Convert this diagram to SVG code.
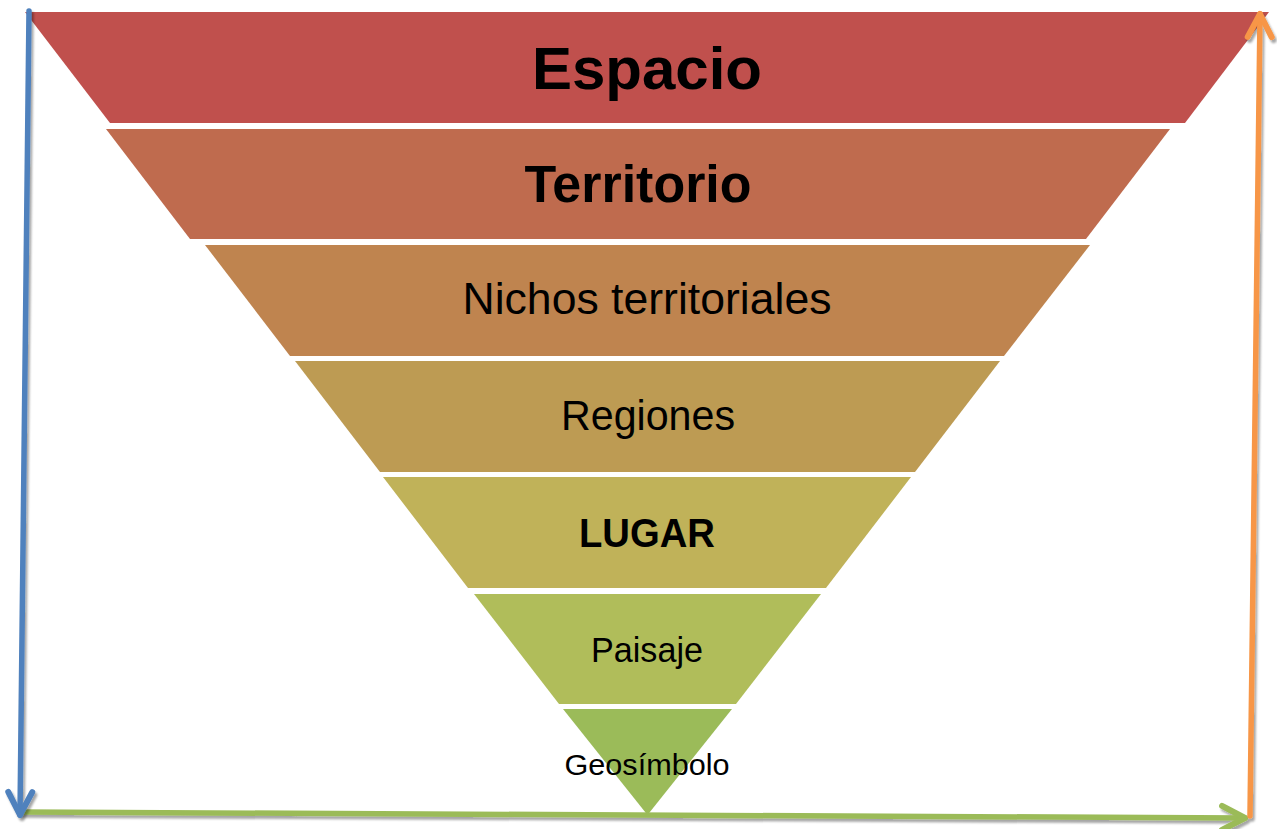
<svg xmlns="http://www.w3.org/2000/svg" width="1277" height="829" viewBox="0 0 1277 829">
<style>
.lbl{font-family:"Liberation Sans",Arial,sans-serif;fill:#000;text-anchor:middle}
.b{font-weight:bold}
.conn{fill:none;stroke-width:5.5;stroke-linecap:round;filter:url(#sh)}
.band{stroke:none}
</style>
<defs>
<filter id="sh" filterUnits="userSpaceOnUse" x="0" y="0" width="1277" height="829">
<feDropShadow dx="2" dy="3" stdDeviation="1.2" flood-color="#000" flood-opacity="0.35"/>
</filter>
<marker id="mb" markerUnits="userSpaceOnUse" viewBox="-30 -16 34 32" markerWidth="34" markerHeight="32" refX="0" refY="0" orient="auto">
<path d="M-23,-12 L0,0 L-23,12" fill="none" stroke="#4F81BD" stroke-width="6" stroke-linecap="round" stroke-linejoin="round"/>
</marker>
<marker id="mo" markerUnits="userSpaceOnUse" viewBox="-30 -16 34 32" markerWidth="34" markerHeight="32" refX="0" refY="0" orient="auto">
<path d="M-23,-12 L0,0 L-23,12" fill="none" stroke="#F79646" stroke-width="6" stroke-linecap="round" stroke-linejoin="round"/>
</marker>
<marker id="mg" markerUnits="userSpaceOnUse" viewBox="-30 -16 34 32" markerWidth="34" markerHeight="32" refX="0" refY="0" orient="auto">
<path d="M-23,-12 L0,0 L-23,12" fill="none" stroke="#9BBB59" stroke-width="6" stroke-linecap="round" stroke-linejoin="round"/>
</marker>
</defs>
<rect width="1277" height="829" fill="#fff"/>

<g id="espacio">
<polygon class="band" points="25,12 1269,12 1185,123 110,123" fill="#C0504D"/>
<text class="lbl b" x="647" y="89" font-size="60" textLength="230" lengthAdjust="spacingAndGlyphs">Espacio</text>
</g>
<g id="territorio">
<polygon class="band" points="106,129 1170,129 1086,239 190,239" fill="#BF6B4E"/>
<text class="lbl b" x="638" y="202" font-size="51" textLength="227" lengthAdjust="spacingAndGlyphs">Territorio</text>
</g>
<g id="nichos">
<polygon class="band" points="205,245 1090,245 1004,356 290,356" fill="#BF844F"/>
<text class="lbl" x="647" y="314" font-size="44" textLength="369" lengthAdjust="spacingAndGlyphs">Nichos territoriales</text>
</g>
<g id="regiones">
<polygon class="band" points="295,361 1000,361 915,472 380,472" fill="#BD9B53"/>
<text class="lbl" x="648" y="430" font-size="43" textLength="174" lengthAdjust="spacingAndGlyphs">Regiones</text>
</g>
<g id="lugar">
<polygon class="band" points="383,477 911,477 826,588 468,588" fill="#C0B259"/>
<text class="lbl b" x="647" y="547" font-size="41" textLength="136" lengthAdjust="spacingAndGlyphs">LUGAR</text>
</g>
<g id="paisaje">
<polygon class="band" points="474,594 821,594 736,704 559,704" fill="#B0BD5A"/>
<text class="lbl" x="647" y="662" font-size="35" textLength="112" lengthAdjust="spacingAndGlyphs">Paisaje</text>
</g>
<g id="geosimbolo">
<polygon class="band" points="563,709 732,709 647.5,815" fill="#9BBB59"/>
<text class="lbl" x="647" y="775" font-size="30" textLength="165" lengthAdjust="spacingAndGlyphs">Geosímbolo</text>
</g>

<g id="connectors">
<line class="conn" x1="21" y1="812" x2="1245" y2="818" stroke="#9BBB59" marker-end="url(#mg)"/>
<line class="conn" x1="29" y1="11" x2="20" y2="815" stroke="#4F81BD" marker-end="url(#mb)"/>
<line class="conn" x1="1250" y1="816" x2="1260" y2="14" stroke="#F79646" marker-end="url(#mo)"/>
</g>
</svg>
